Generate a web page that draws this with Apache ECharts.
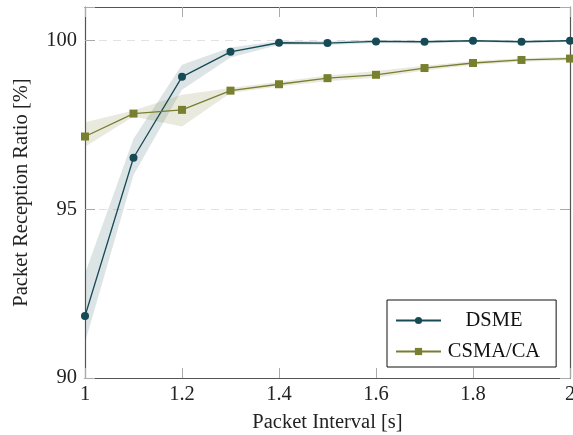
<!DOCTYPE html>
<html>
<head>
<meta charset="utf-8">
<script src="https://cdn.jsdelivr.net/npm/echarts@6/dist/echarts.min.js"></script>
<style>html,body{margin:0;padding:0;background:#fff}#c{width:573px;height:435px}</style>
</head>
<body>
<div id="c"></div>
<script>
const intervals = [1.0, 1.1, 1.2, 1.3, 1.4, 1.5, 1.6, 1.7, 1.8, 1.9, 2.0];
const dsme     = [91.84, 96.53, 98.93, 99.67, 99.94, 99.93, 99.98, 99.97, 100.0, 99.97, 100.0];
const dsmeLow  = [91.05, 96.02, 98.55, 99.50, 99.88, 99.87, 99.93, 99.92, 99.96, 99.93, 99.96];
const dsmeHigh = [93.10, 97.09, 99.29, 99.80, 99.99, 99.99, 100.02, 100.01, 100.03, 100.01, 100.03];
const csma     = [97.16, 97.84, 97.95, 98.52, 98.71, 98.89, 98.99, 99.19, 99.34, 99.43, 99.47];
const csmaLow  = [96.86, 97.75, 97.46, 98.45, 98.64, 98.80, 98.90, 99.12, 99.28, 99.38, 99.42];
const csmaHigh = [97.58, 97.93, 98.40, 98.60, 98.78, 98.97, 99.10, 99.26, 99.40, 99.48, 99.52];
const yTicks = [90, 95, 100];

const DS = '#164b56', CS = '#787f2e';
const font = 'Liberation Serif';
const FS = 20.5;
const pairs = arr => intervals.map((x, i) => [x, arr[i]]);

function bandSeries(low, high, fill) {
  return {
    type: 'custom', silent: true, z: 1, clip: true,
    data: intervals.map((x, i) => [x, low[i], high[i]]),
    encode: {x: 0, y: [1, 2]},
    renderItem: (params, api) => {
      if (params.dataIndex !== 0) return;
      const pts = [];
      for (let i = 0; i < intervals.length; i++) pts.push(api.coord([intervals[i], high[i]]));
      for (let i = intervals.length - 1; i >= 0; i--) pts.push(api.coord([intervals[i], low[i]]));
      return {type: 'polygon', shape: {points: pts}, style: {fill: fill, stroke: null}};
    }
  };
}

const chart = echarts.init(document.getElementById('c'), null, {renderer: 'canvas'});
const axisCommon = {
  axisLine: {show: true, lineStyle: {color: '#555', width: 1.2}},
  axisTick: {show: true, inside: true, length: 10, lineStyle: {color: '#aaa', width: 1}},
};
chart.setOption({
  animation: false,
  textStyle: {fontFamily: font},
  grid: {left: 85, right: 3, top: 7, bottom: 57, show: false, containLabel: false, outerBoundsMode: 'none'},
  xAxis: [
    Object.assign({type: 'value', min: 1, max: 2, interval: 0.2, position: 'bottom',
      name: 'Packet Interval [s]', nameLocation: 'middle', nameGap: 34,
      nameTextStyle: {fontFamily: font, fontSize: FS, color: '#222'},
      axisLabel: {fontFamily: font, fontSize: FS, color: '#222', margin: 6},
      splitLine: {show: false}}, axisCommon),
    Object.assign({type: 'value', min: 1, max: 2, interval: 0.2, position: 'top',
      axisLabel: {show: false}, splitLine: {show: false}}, axisCommon)
  ],
  yAxis: [
    Object.assign({type: 'value', min: 90, max: 101, interval: 5, position: 'left',
      name: 'Packet Reception Ratio [%]', nameLocation: 'middle', nameGap: 53,
      nameTextStyle: {fontFamily: font, fontSize: FS, color: '#222'},
      axisLabel: {fontFamily: font, fontSize: FS, color: '#222', margin: 8,
        formatter: v => yTicks.includes(v) ? String(v) : ''},
      splitLine: {show: true, lineStyle: {color: '#e2e2e2', type: [8, 6], width: 1.2}}}, axisCommon),
    Object.assign({type: 'value', min: 90, max: 101, interval: 5, position: 'right',
      axisLabel: {show: false}, splitLine: {show: false}}, axisCommon)
  ],
  legend: {
    orient: 'vertical', left: 387, top: 300,
    padding: [10, 16, 5, 8], itemGap: 10,
    borderColor: '#111', borderWidth: 1, backgroundColor: '#fff', borderRadius: 0,
    itemWidth: 45, itemHeight: 9,
    formatter: '{c|{name}}',
    textStyle: {fontFamily: font, fontSize: FS, color: '#111',
      rich: {c: {fontFamily: font, fontSize: FS, color: '#111', width: 96, align: 'center', height: 24}}},
    data: ['DSME', 'CSMA/CA']
  },
  series: [
    bandSeries(dsmeLow, dsmeHigh, 'rgba(22,75,86,0.15)'),
    bandSeries(csmaLow, csmaHigh, 'rgba(120,127,46,0.16)'),
    {name: 'DSME', type: 'line', data: pairs(dsme), symbol: 'circle', symbolSize: 8,
      color: DS, lineStyle: {color: DS, width: 1.3}, itemStyle: {color: DS}, z: 3},
    {name: 'CSMA/CA', type: 'line', data: pairs(csma), symbol: 'rect', symbolSize: 8,
      color: CS, lineStyle: {color: CS, width: 1.3}, itemStyle: {color: CS}, z: 3}
  ]
});
</script>
</body>
</html>
